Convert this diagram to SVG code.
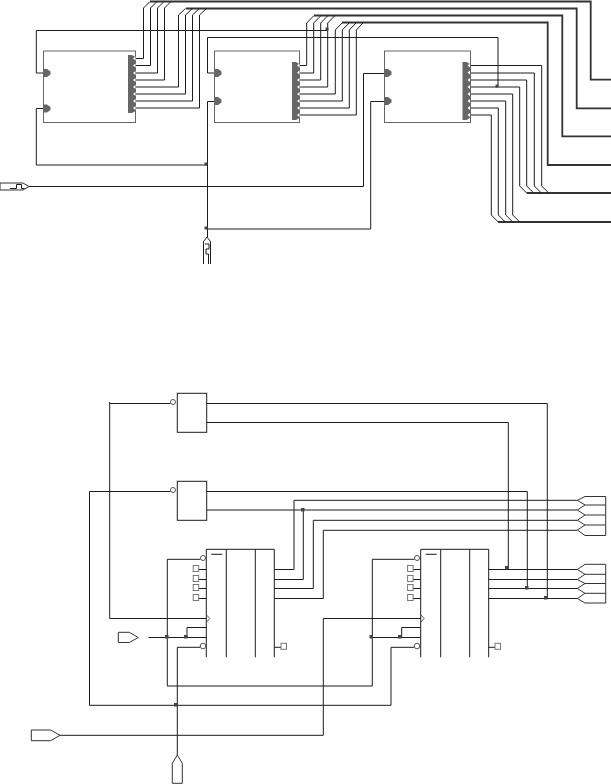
<svg xmlns="http://www.w3.org/2000/svg" width="611" height="784" viewBox="0 0 611 784">
<style>
.w{fill:none;stroke:#1c1c1c;stroke-width:1}
.b{fill:none;stroke:#333;stroke-width:1.8}
.box{fill:#fff;stroke:#666;stroke-width:1}
.blk{fill:#fff;stroke:#1c1c1c;stroke-width:1}
.ol{fill:none;stroke:#333;stroke-width:1}
.g{fill:none;stroke:#777;stroke-width:1}
.bub{fill:#fff;stroke:#555;stroke-width:1}
.pin{fill:#666}
.dot{fill:#444}
.n{fill:#fff}
</style>
<defs>
<path id="p" class="pin" d="M0-4H3.5L7-1.5V1.5L3.5 4H0Z"/>
<g id="bar"><path class="pin" d="M0 0L4 0L7.5 2V56L4 58H0Z"/>
<path class="n" d="M7.5 1.5L5 3.5L7.5 5.5ZM7.5 8.5L5 10.5L7.5 12.5ZM7.5 16L5 18L7.5 20ZM7.5 23L5 25L7.5 27ZM7.5 30L5 32L7.5 34ZM7.5 37L5 39L7.5 41ZM7.5 44L5 46L7.5 48ZM7.5 51L5 53L7.5 55Z"/></g>
<rect id="s" class="g" x="0" y="-3" width="5.5" height="6"/>
<g id="block">
<path class="w" d="M0 108V0H68V108M20 0V108M49 0V108"/>
<path class="w" d="M5 5H16"/>
<path class="bub" style="fill:none" d="M0 65.5L3.5 69.2L0 73"/>
</g>
</defs>

<g id="connectors">
<path class="b" d="M150 1.5H590.7V79.7H611"/>
<path class="b" d="M186 8.5H576.7V108.3H611"/>
<path class="b" d="M314 15.5H562.3V136.3H611"/>
<path class="b" d="M342 22.5H547.7V165H611"/>
<path class="b" d="M526.7 193H611"/>
<path class="b" d="M498 222H611"/>
<path class="w" d="M135 58.5H143.5V8L150 1.5M135 65.5H150.5V8L157 1.5M135 73H157.5V8L164 1.5M135 80H164.5V8L171 1.5M135 87H178.5V15L185.5 8.5M135 94H185.5V15L192.5 8.5M135 101H192.5V15L199.5 8.5M135 108H199.5V15L206.5 8.5"/>
<path class="w" d="M299 65.5H306.7V23L314 15.5M299 73H313.7V23L321 15.5M299 80H320.7V23L328 15.5M299 87H327.7V23L335 15.5M299 94H335.3V30L342.5 22.5M299 101H342.3V30L349.5 22.5M299 108H349.3V30L356.5 22.5M299 115H356.3V30L363.5 22.5"/>
<path class="w" d="M470 65.5H541.7V186L548.7 193M470 73H534.3V186L541.3 193M470 80H526.7V186L533.7 193M470 87H519.7V186L526.7 193M470 94H512.7V215L519.7 222M470 101H505.7V215L512.7 222M470 108H498.3V215L505.3 222M470 115H491.3V215L498.3 222"/>
<path class="w" d="M43 73H36.3V30.5H327"/>
<path class="w" d="M43 108.5H36.3V165H207"/>
<path class="w" d="M214 73H207.5V37.5H498V86"/>
<path class="w" d="M214 101.5H207.5V237"/>
<path class="w" d="M29 186.5H363.5V73.5H384"/>
<path class="w" d="M207 229H370.7V101.5H384"/>
<path class="w" d="M109.7 402V618.5H206"/>
<path class="w" d="M109.7 403.5H170.5"/>
<path class="w" d="M89.5 705.3V491.5H170.5"/>
<path class="w" d="M89.5 705.3H391V647.3H414"/>
<path class="w" d="M206.7 403.5H547.3V598"/>
<path class="w" d="M206.7 422.5H508.3V569"/>
<path class="w" d="M206.7 491.5H527.3V588"/>
<path class="w" d="M206.7 510H577.3"/>
<path class="w" d="M274.3 569.5H294V500.3H577.3"/>
<path class="w" d="M274.3 579.5H303.3V510"/>
<path class="w" d="M274.3 588.5H313.3V520.3H577.3"/>
<path class="w" d="M274.3 598.5H323.3V530.3H577.3"/>
<path class="w" d="M200.5 559.3H167.3V686H372.3V559.3H414.5"/>
<path class="w" d="M148.5 637.5H206.3M187 637.5V627.5H206.3"/>
<path class="w" d="M200 647.3H177.3V755"/>
<path class="w" d="M60 735.3H323.3V618.5H420.7"/>
<path class="w" d="M371 637.5H420.7M401.7 637.5V627.5H420.7"/>
<path class="w" d="M488.7 569.5H577.3M488.7 579.5H577.3M488.7 588.5H577.3M488.7 598.5H577.3"/>
<path class="w" d="M198.7 569.5H206M198.7 579.5H206M198.7 588.5H206M198.7 598.5H206M413 569.5H420.7M413 579.5H420.7M413 588.5H420.7M413 598.5H420.7M274.3 647.3H281M488.7 647.3H495"/>
<rect class="dot" x="325.5" y="27.5" width="3" height="3"/>
<rect class="dot" x="495.5" y="84.5" width="3" height="3"/>
<rect class="dot" x="204.5" y="162.5" width="3" height="3"/>
<rect class="dot" x="204.5" y="226.5" width="3" height="3"/>
<rect class="dot" x="301" y="508" width="3.5" height="3.5"/>
<rect class="dot" x="505" y="566" width="3.5" height="3.5"/>
<rect class="dot" x="525" y="586" width="3.5" height="3.5"/>
<rect class="dot" x="544" y="596" width="3.5" height="3.5"/>
<rect class="dot" x="165" y="635" width="3.5" height="3.5"/>
<rect class="dot" x="184" y="635" width="3.5" height="3.5"/>
<rect class="dot" x="369.5" y="635" width="3.5" height="3.5"/>
<rect class="dot" x="398" y="635" width="3.5" height="3.5"/>
<rect class="dot" x="174" y="703" width="3.5" height="3.5"/>
</g>

<g id="comp1"><rect class="box" x="43.5" y="51" width="92" height="71.5"/><use href="#p" x="43.5" y="73"/><use href="#p" x="43.5" y="108.5"/><use href="#bar" x="128" y="55"/></g>
<g id="comp2"><rect class="box" x="214.5" y="51" width="85" height="71.5"/><use href="#p" x="214.5" y="73"/><use href="#p" x="214.5" y="101"/><use href="#bar" x="292" y="62"/></g>
<g id="comp3"><rect class="box" x="384.5" y="51" width="86" height="71.5"/><use href="#p" x="384.5" y="73"/><use href="#p" x="384.5" y="101"/><use href="#bar" x="462.5" y="62"/></g>

<g id="port-top-left"><path class="ol" d="M0 183H23L29 186.5L23 190H0Z"/><path class="w" d="M10 188.5H16.5V184.5H21.5V188.5H24.5"/></g>
<g id="port-top-bottom"><path class="w" d="M203.5 264V241.5L207 237L210.5 241.5V264"/><path class="w" d="M205 244H209V249H206V254H208.5V264"/></g>

<g id="inv1"><rect class="blk" x="177.3" y="393.3" width="29.4" height="39"/><circle class="bub" cx="173" cy="402" r="2.5"/></g>
<g id="inv2"><rect class="blk" x="177.3" y="481.3" width="29.4" height="39"/><circle class="bub" cx="173" cy="490" r="2.5"/></g>

<g id="reg1"><use href="#block" x="206.3" y="549.3"/><circle class="bub" cx="203" cy="558" r="2.5"/><circle class="bub" cx="203" cy="646" r="2.8"/>
<use href="#s" x="193.2" y="568.5"/><use href="#s" x="193.2" y="578.5"/><use href="#s" x="193.2" y="587.5"/><use href="#s" x="193.2" y="597.5"/><use href="#s" x="281" y="646.3"/></g>
<g id="reg2"><use href="#block" x="420.7" y="549.3"/><circle class="bub" cx="417" cy="558" r="2.5"/><circle class="bub" cx="417" cy="646" r="2.8"/>
<use href="#s" x="407.6" y="568.5"/><use href="#s" x="407.6" y="578.5"/><use href="#s" x="407.6" y="587.5"/><use href="#s" x="407.6" y="597.5"/><use href="#s" x="495" y="646.3"/></g>

<g id="port-out-a"><path class="ol" d="M585 496.5H605.7V535.5H585L577.3 530L585 525L577.3 520.3L585 515L577.3 510L585 505L577.3 500.3ZM585 505H605.7M585 515H605.7M585 525H605.7"/></g>
<g id="port-out-b"><path class="ol" d="M585 564.3H605.7V603H585L577.3 598.5L585 593.3L577.3 588.5L585 583.5L577.3 579.5L585 574.3L577.3 569.5ZM585 574.3H605.7M585 583.5H605.7M585 593.3H605.7"/></g>
<g id="port-clk"><path class="ol" d="M118.3 632.3H129.3L138.3 637.5L129.3 642.5H118.3Z"/></g>
<g id="port-left"><path class="ol" d="M31.3 730H50.7L60 735.3L50.7 740.7H31.3Z"/></g>
<g id="port-bottom"><path class="ol" d="M172.3 763.3L177.3 755L182.3 763.3V783.3H172.3Z"/></g>
</svg>
